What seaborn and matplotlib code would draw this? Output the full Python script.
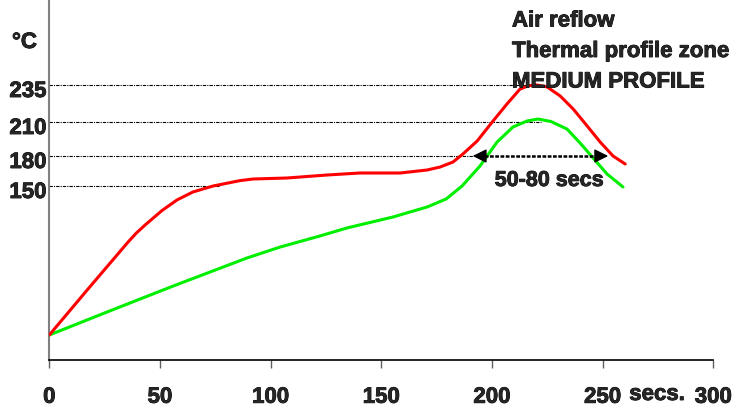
import numpy as np
import pandas as pd
import matplotlib
matplotlib.use('Agg')
import matplotlib.pyplot as plt
import matplotlib.transforms as mtransforms
import matplotlib.patheffects as pe
from matplotlib import font_manager as fm
import seaborn as sns

# Reflow profile (secs, °C)
red_secs = [0, 17.5, 35.6, 39.2, 43.3, 50.9, 57.7, 64.9, 74, 86.2, 92.1, 107.4, 125.5,
            140.4, 158.5, 170.7, 176.6, 182.4, 186.9, 193.3, 200.5, 206.8, 212.7, 216.5,
            220.4, 224.9, 230.8, 236.7, 243, 248.9, 254.7, 260.2]
red_temp = [25, 63.6, 103, 110.3, 117.3, 129.4, 138.3, 145, 150, 155.4, 157, 158, 161,
            163, 163, 166, 169, 174, 181.8, 193.2, 210.7, 222.2, 232.3, 234.5,
            235, 233.7, 227.6, 218.8, 206.5, 192.3, 180, 172]
green_secs = [0, 26.1, 56, 89.3, 104.3, 122.3, 134.5, 155.3, 170.7, 179.3, 186.5, 194.6,
              202.3, 209.5, 215.9, 220.8, 226.7, 233.9, 239.8, 245.7, 252, 259.2]
green_temp = [25, 44.3, 66.1, 89.6, 98.8, 108.1, 114.8, 124, 132.4, 139.1, 150, 170,
              192.3, 205.6, 210.7, 212, 210.3, 203.8, 191.5, 178, 162, 149.2]

# tick labels and the dotted guide lines (temp, where the guide stops)
y_ticks = [150, 180, 210, 235]
guide_ends = [77, 191.3, 222, 220.4]
x_ticks = [0, 50, 100, 150, 200, 250, 300]
window = (191.3, 252.5)   # the 50-80 secs arrow at 180 °C

# the original y axis is not to scale: piecewise mapping temp -> height
temp_knots = [25, 150, 180, 210, 235]
pos_knots = [0, 149, 179, 213, 250]


def extend(k, p):
    k = np.asarray(k, float)
    p = np.asarray(p, float)
    lo = (p[1] - p[0]) / (k[1] - k[0])
    hi = (p[-1] - p[-2]) / (k[-1] - k[-2])
    return (np.r_[k[0] - 1000, k, k[-1] + 1000],
            np.r_[p[0] - 1000 * lo, p, p[-1] + 1000 * hi])


def pick_bold(families):
    # first family that really ships a bold face
    for fam in families:
        try:
            path = fm.findfont(fm.FontProperties(family=fam, weight='bold'),
                               fallback_to_default=False)
        except Exception:
            continue
        if 'bold' in path.lower() or 'bd' in path.lower():
            return fam
    return 'DejaVu Sans'


K, P = extend(temp_knots, pos_knots)
fwd = lambda t: np.interp(t, K, P)
inv = lambda p: np.interp(p, P, K)

sns.set_style('white')
BOLD = pick_bold(['Liberation Sans', 'Arimo', 'Roboto', 'Noto Sans', 'Open Sans', 'Inter', 'Lato'])
NARROW = pick_bold(['Liberation Sans Narrow', BOLD])
plt.rcParams['font.family'] = [BOLD, 'DejaVu Sans']
plt.rcParams['font.weight'] = 'bold'

W, H = 748, 410
fig = plt.figure(figsize=(W / 100, H / 100), dpi=100)
ax = fig.add_axes([49.3 / W, 1 - 360.7 / H, (713.3 - 49.3) / W, 360.7 / H])
ax.set_yscale('function', functions=(fwd, inv))

red = pd.DataFrame({'secs': red_secs, 'temp': red_temp})
green = pd.DataFrame({'secs': green_secs, 'temp': green_temp})

# dotted guides
for t, xe in zip(y_ticks, guide_ends):
    ax.plot([0, xe], [t, t], color='black', lw=0.8, ls=(0, (3, 1, 1, 1)), zorder=1)

sns.lineplot(data=green, x='secs', y='temp', color='#00ee00', lw=2.2, estimator=None, ax=ax, zorder=3)
sns.lineplot(data=red, x='secs', y='temp', color='#ff0000', lw=2.2, estimator=None, ax=ax, zorder=3)

# 50-80 secs window arrow
ax.plot([window[0] + 3, window[1] - 3], [180, 180], color='black', lw=1.8,
        ls=(0, (1.5, 0.6)), zorder=4)
for tip, tail in [(window[0], window[0] + 5), (window[1], window[1] - 5)]:
    ax.annotate('', xy=(tip, 180), xytext=(tail, 180),
                arrowprops=dict(arrowstyle='-|>,head_length=0.6,head_width=0.3',
                                color='black', lw=1, mutation_scale=14, shrinkA=0, shrinkB=0),
                zorder=5)
ax.text(sum(window) / 2 + 4, 150, '50-80 secs', ha='center', va='baseline',
        fontsize=15.5, fontweight='bold')

ax.set_xlim(0, 300)
ax.set_ylim(inv(-24.7), inv(336))
ax.set_xticks(x_ticks)
ax.set_yticks(y_ticks)
ax.set_xlabel('')
ax.set_ylabel('')
ax.tick_params(axis='x', bottom=True, direction='out', length=6, width=1,
               color='#606060', pad=13.5, labelsize=16)
ax.tick_params(axis='y', left=False, length=0, pad=2, labelsize=16)
plt.setp(ax.get_xticklabels() + ax.get_yticklabels(), fontweight='bold')
shift = mtransforms.ScaledTranslation(0, -0.04, fig.dpi_scale_trans)
for lab in ax.get_yticklabels():
    lab.set_transform(lab.get_transform() + shift)

sns.despine(ax=ax)
ax.spines['left'].set_color('#808080')
ax.spines['left'].set_linewidth(1.5)
ax.spines['bottom'].set_color('black')
ax.spines['bottom'].set_linewidth(1.2)

fig.text(12 / W, 1 - 49 / H, '°C', ha='left', va='baseline', fontsize=16, fontweight='bold')
fig.text(657 / W, 1 - 401 / H, 'secs.', ha='center', va='baseline', fontsize=16,
         fontweight='bold', family=[NARROW, BOLD])
for txt, base in [('Air reflow', 27.5), ('Thermal profile zone', 58), ('MEDIUM PROFILE', 88.5)]:
    fig.text(512 / W, 1 - base / H, txt, ha='left', va='baseline', fontsize=16,
             fontweight='bold')

# the reference text is rendered a little heavier than matplotlib's bold
heavy = [pe.Stroke(linewidth=0.6, foreground='black'), pe.Normal()]
for t in fig.findobj(matplotlib.text.Text):
    if t.get_text():
        t.set_path_effects(heavy)

fig.savefig('out.png', dpi=100)
